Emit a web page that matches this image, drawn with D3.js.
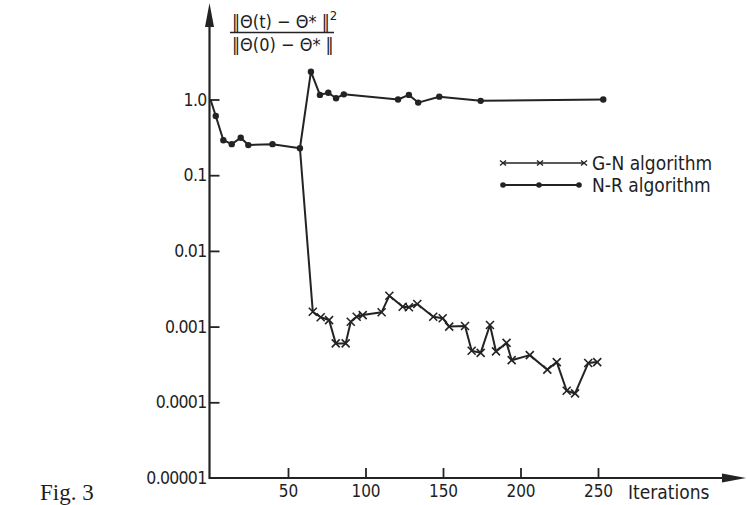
<!DOCTYPE html>
<html>
<head>
<meta charset="utf-8">
<script src="https://cdn.jsdelivr.net/npm/d3@7"></script>
<style>
  html, body { margin: 0; padding: 0; background: #ffffff; }
  svg { display: block; }
  text { fill: #1e1e1e; }
</style>
</head>
<body>
<svg id="chart" width="747" height="505"></svg>
<script>
// ---- data ----
const nrIter  = [0, 3.4, 8.3, 13.7, 19.5, 24.4, 40, 57.7, 64.8, 70.6, 76, 81, 86, 121, 128, 134, 147.6, 174.3, 253.4];
const nrValue = [1.0, 0.605, 0.29, 0.257, 0.313, 0.25, 0.257, 0.227, 2.33, 1.15, 1.23, 1.04, 1.17, 1.0, 1.15, 0.91, 1.09, 0.96, 1.0];

const gnIter  = [57.7, 66, 71.1, 76.5, 80.8, 87.2, 90.5, 94.3, 98.2, 110.4, 115.4, 124, 128, 133.4, 143.7, 149.8, 154, 164.2,
                 168.5, 174.3, 180.3, 184.2, 191, 194.3, 206, 217.3, 223.4, 229.8, 235.2, 243.7, 249.5];
const gnValue = [0.227, 0.00157, 0.00133, 0.00122, 0.00060, 0.00060, 0.00116, 0.00135, 0.00142, 0.00155, 0.00256, 0.00183, 0.00180, 0.00199,
                 0.00135, 0.00129, 0.00100, 0.00102, 0.00048, 0.00045, 0.00105, 0.00047, 0.00061, 0.00036, 0.00042, 0.00027,
                 0.00034, 0.000142, 0.000131, 0.00033, 0.00034];

const yTickValues = [1e-5, 1e-4, 1e-3, 1e-2, 1e-1, 1];
const yTickLabels = ["0.00001", "0.0001", "0.001", "0.01", "0.1", "1.0"];
const xTickValues = [50, 100, 150, 200, 250];
const seriesNames = ["G-N algorithm", "N-R algorithm"];

// ---- drawing ----
const ink = "#232323";
const svg = d3.select("#chart");

const x = d3.scaleLinear().domain([0, 250]).range([210.5, 598]);
const y = d3.scaleLog().domain([1e-5, 1]).range([478, 99.5]);
const x0 = x(0), yBase = y(1e-5);

const axisFont = "'DejaVu Sans Condensed', 'Liberation Sans Narrow', 'DejaVu Sans', sans-serif";

// axis lines with arrowheads
svg.append("line").attr("x1", x0 - 1).attr("x2", 733).attr("y1", yBase).attr("y2", yBase)
  .attr("stroke", ink).attr("stroke-width", 2.2);
svg.append("line").attr("x1", x0 - 1).attr("x2", x0 - 1).attr("y1", yBase + 1).attr("y2", 16)
  .attr("stroke", ink).attr("stroke-width", 2.2);
svg.append("path").attr("d", `M${x0 - 1},3 L${x0 - 5.5},27 L${x0 + 3.5},27 Z`).attr("fill", ink);
svg.append("path").attr("d", `M746,${yBase} L722,${yBase - 4.5} L722,${yBase + 4.5} Z`).attr("fill", ink);

// y axis (ticks pointing inward)
const yAxis = d3.axisLeft(y).tickValues(yTickValues)
  .tickFormat((d, i) => yTickLabels[i]).tickSizeInner(-10).tickSizeOuter(0).tickPadding(3);
const gy = svg.append("g").attr("transform", `translate(${x0 - 1},0)`).call(yAxis);
gy.select(".domain").remove();
gy.selectAll(".tick line").attr("stroke", ink).attr("stroke-width", 1.8);
gy.selectAll(".tick text").attr("font-family", axisFont).attr("font-size", 17.5)
  .attr("fill", ink).attr("dy", "0.32em").attr("letter-spacing", -0.7);
gy.selectAll(".tick").filter(d => d === 1e-5).select("line").remove();

// x axis (ticks pointing upward)
const xAxis = d3.axisBottom(x).tickValues(xTickValues).tickSizeInner(-10).tickSizeOuter(0).tickPadding(7);
const gx = svg.append("g").attr("transform", `translate(0,${yBase})`).call(xAxis);
gx.select(".domain").remove();
gx.selectAll(".tick line").attr("stroke", ink).attr("stroke-width", 1.8);
gx.selectAll(".tick text").attr("font-family", axisFont).attr("font-size", 17).attr("fill", ink).attr("dy", "0.71em");

svg.append("text").attr("x", 628).attr("y", yBase + 21).attr("font-family", axisFont)
  .attr("font-size", 19).attr("fill", ink).text("Iterations");

svg.append("text").attr("x", 40).attr("y", 500).attr("font-family", "'Liberation Serif', 'DejaVu Serif', serif")
  .attr("font-size", 23).attr("fill", ink).text("Fig. 3");

// y label fraction
const lab = svg.append("g").attr("font-family", axisFont).attr("font-size", 18).attr("fill", ink);
const num = lab.append("text").attr("x", 232).attr("y", 28);
num.append("tspan").text("‖Θ(t) − Θ* ‖");
num.append("tspan").attr("dy", -8).attr("font-size", 13).text("2");
lab.append("line").attr("x1", 230).attr("x2", 334).attr("y1", 32.5).attr("y2", 32.5)
  .attr("stroke", ink).attr("stroke-width", 1.6);
lab.append("text").attr("x", 232).attr("y", 51).text("‖Θ(0) − Θ* ‖");

// series
const line = d3.line().x(d => x(d[0])).y(d => y(d[1]));
const nr = nrIter.map((t, i) => [t, nrValue[i]]);
const gn = gnIter.map((t, i) => [t, gnValue[i]]);

svg.append("path").datum(gn).attr("d", line).attr("fill", "none").attr("stroke", ink)
  .attr("stroke-width", 2).attr("stroke-linejoin", "round");
svg.append("path").datum(nr).attr("d", line).attr("fill", "none").attr("stroke", ink)
  .attr("stroke-width", 2).attr("stroke-linejoin", "round");

const cross = "M-4,-4L4,4M-4,4L4,-4";
svg.append("g").selectAll("path").data(gn.slice(1)).join("path")
  .attr("d", cross).attr("transform", d => `translate(${x(d[0])},${y(d[1])})`)
  .attr("stroke", ink).attr("stroke-width", 1.6).attr("fill", "none");
svg.append("g").selectAll("circle").data(nr.slice(1)).join("circle")
  .attr("cx", d => x(d[0])).attr("cy", d => y(d[1])).attr("r", 3.2).attr("fill", ink);

// legend
const lg = svg.append("g");
const rowY = [163, 185];
lg.append("line").attr("x1", 503).attr("x2", 585).attr("y1", rowY[0]).attr("y2", rowY[0]).attr("stroke", ink).attr("stroke-width", 1.6);
[503, 540, 584].forEach(px => lg.append("path").attr("d", "M-3,-2.5L3,2.5M-3,2.5L3,-2.5")
  .attr("transform", `translate(${px},${rowY[0]})`).attr("stroke", ink).attr("stroke-width", 1.4));
lg.append("line").attr("x1", 503).attr("x2", 579).attr("y1", rowY[1]).attr("y2", rowY[1]).attr("stroke", ink).attr("stroke-width", 1.8);
[503, 539, 579].forEach(px => lg.append("circle").attr("cx", px).attr("cy", rowY[1]).attr("r", 2.8).attr("fill", ink));
seriesNames.forEach((name, i) => lg.append("text").attr("x", 592).attr("y", rowY[i]).attr("dy", "0.35em")
  .attr("font-family", axisFont).attr("font-size", 19).attr("fill", ink).text(name));
</script>
</body>
</html>
